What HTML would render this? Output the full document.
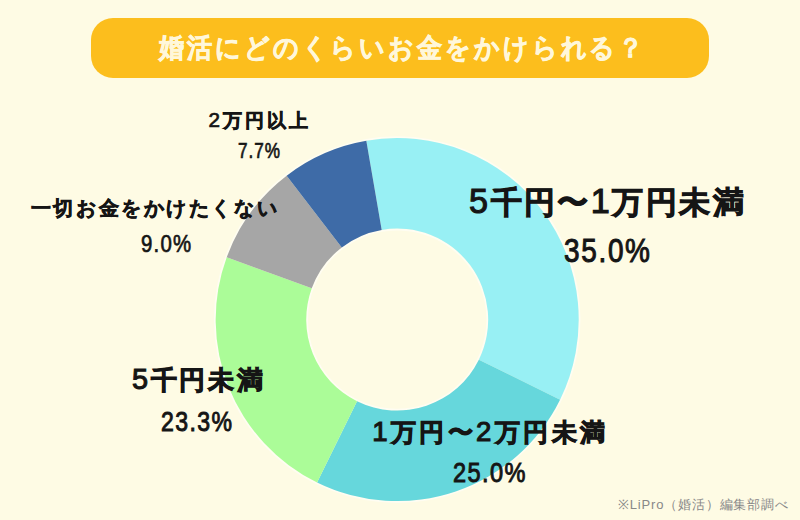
<!DOCTYPE html>
<html><head><meta charset="utf-8">
<style>
html,body{margin:0;padding:0;}
body{width:800px;height:520px;overflow:hidden;background:#FEFBE4;position:relative;font-family:"Liberation Sans",sans-serif;}
.pill{position:absolute;left:91px;top:18px;width:618px;height:60px;border-radius:22px;background:#FCBE1D;}
.ttl{position:absolute;line-height:1;color:#FFF7DA;font-weight:bold;white-space:nowrap;transform-origin:0 0;-webkit-text-stroke:0.7px #FFF7DA;}
svg{position:absolute;left:0;top:0;}
.lb{position:absolute;white-space:nowrap;color:#151515;font-weight:bold;transform-origin:0 0;line-height:1;}
.k{-webkit-text-stroke:0.9px #151515;}
.k2{-webkit-text-stroke:0.6px #151515;}
.d{font-size:1.09em;font-weight:normal;-webkit-text-stroke:1.1px #151515;}
.p{font-weight:normal;-webkit-text-stroke:1px #151515;}
.p2{-webkit-text-stroke:0.7px #151515;}
.k2 .d{-webkit-text-stroke:0.7px #151515;}
.foot{position:absolute;line-height:1;color:#888;white-space:nowrap;transform-origin:0 0;}
</style></head>
<body>
<div class="pill"></div>
<div class="ttl" id="ttl" style="left:158.5px;top:33.75px;font-size:27.3px;letter-spacing:3.06px;transform:scaleX(0.93);">婚活にどのくらいお金をかけられる？</div>
<svg width="800" height="520" viewBox="0 0 800 520">
<circle cx="397.2" cy="319.6" r="182.4" fill="none" stroke="#FFFFFF" stroke-opacity="0.5" stroke-width="1.8"/>
<circle cx="397.2" cy="319.6" r="90.1" fill="none" stroke="#FFFFFF" stroke-opacity="0.5" stroke-width="1.8"/>
<g>
<path fill="#98F0F4" d="M366.31 140.75A181.5 181.5 0 0 1 560.05 399.73L478.85 359.78A91 91 0 0 0 381.71 229.93Z"/>
<path fill="#66D7DC" d="M560.05 399.73A181.5 181.5 0 0 1 317.07 482.45L357.02 401.25A91 91 0 0 0 478.85 359.78Z"/>
<path fill="#ABFC98" d="M317.07 482.45A181.5 181.5 0 0 1 226.73 257.29L311.73 288.36A91 91 0 0 0 357.02 401.25Z"/>
<path fill="#A6A6A6" d="M226.73 257.29A181.5 181.5 0 0 1 286.66 175.64L341.78 247.42A91 91 0 0 0 311.73 288.36Z"/>
<path fill="#3E6BA7" d="M286.66 175.64A181.5 181.5 0 0 1 366.31 140.75L381.71 229.93A91 91 0 0 0 341.78 247.42Z"/>
</g>
</svg>
<div class="lb k" id="l1a" style="left:469.05px;top:184.0px;font-size:31.36px;letter-spacing:2.44px;transform:scaleX(1.0);"><span class="d">5</span>千円〜<span class="d">1</span>万円未満</div>
<div class="lb p" id="l1b" style="left:563.8px;top:234.75px;font-size:32.71px;letter-spacing:1.96px;transform:scaleX(0.855);">35.0%</div>
<div class="lb k" id="l2a" style="left:372.25px;top:418.1px;font-size:25.35px;letter-spacing:3.37px;transform:scaleX(1.0);"><span class="d">1</span>万円〜<span class="d">2</span>万円未満</div>
<div class="lb p" id="l2b" style="left:452.5px;top:458.0px;font-size:28.25px;letter-spacing:1.69px;transform:scaleX(0.834);">25.0%</div>
<div class="lb k" id="l3a" style="left:132.0px;top:364.5px;font-size:26.46px;letter-spacing:2.69px;transform:scaleX(1.0);"><span class="d">5</span>千円未満</div>
<div class="lb p" id="l3b" style="left:161.25px;top:406.6px;font-size:28.37px;letter-spacing:1.71px;transform:scaleX(0.813);">23.3%</div>
<div class="lb k k2" id="l4a" style="left:30.75px;top:198.5px;font-size:19.6px;letter-spacing:2.59px;transform:scaleX(1.0);">一切お金をかけたくない</div>
<div class="lb p p2" id="l4b" style="left:141.0px;top:231.75px;font-size:24.38px;letter-spacing:1.44px;transform:scaleX(0.836);">9.0%</div>
<div class="lb k k2" id="l5a" style="left:208.5px;top:110.0px;font-size:18.95px;letter-spacing:3.06px;transform:scaleX(1.0);"><span class="d">2</span>万円以上</div>
<div class="lb p p2" id="l5b" style="left:237.5px;top:140.25px;font-size:21.67px;letter-spacing:1.25px;transform:scaleX(0.792);">7.7%</div>
<div class="foot" id="foot" style="left:618.0px;top:498.0px;font-size:13.0px;letter-spacing:0.82px;transform:scaleX(1.0);">※LiPro（婚活）編集部調べ</div>
</body></html>
